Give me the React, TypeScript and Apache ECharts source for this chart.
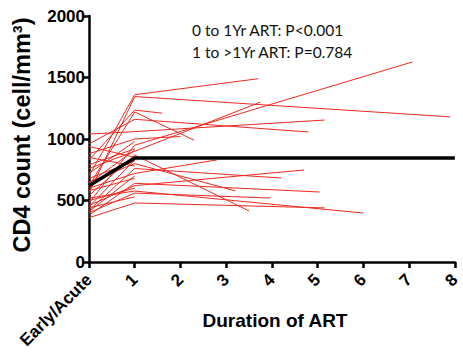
import React, { useEffect, useRef } from "react";
import * as echarts from "echarts";

// CD4 count per subject: Early/Acute (year 0), year 1, and last follow-up
const baselineCD4 = [700, 560, 830, 620, 960, 1040, 480, 760, 880, 540, 650, 420, 600, 380, 460, 520, 400, 360, 940, 790, 680, 580, 500, 440, 720, 850, 410, 450, 640];
const year1CD4 = [1360, 1345, 1235, 1220, 1160, 1060, 950, 900, 1000, 870, 800, 760, 720, 640, 621, 577, 560, 480, 850, 920, 820, 680, 600, 530, 980, 780, 700, 830, 910];
const lastYear = [3.7, 7.9, 1.6, 2.3, 4.8, 5.15, 7.07, 3.75, 2.0, 3.5, 3.2, 4.2, 2.8, 5.04, 4.7, 6.0, 3.97, 5.15, null, null, null, null, null, null, null, null, null, null, null];
const lastCD4 = [1490, 1180, 1210, 990, 1057, 1154, 1626, 1300, 1020, 415, 578, 683, 830, 569, 748, 398, 520, 440, null, null, null, null, null, null, null, null, null, null, null];

const meanYears = [0, 1, 8];
const meanCD4 = [620, 845, 845];

const xTicks = [0, 1, 2, 3, 4, 5, 6, 7, 8];
const xTickLabels = ["Early/Acute", "1", "2", "3", "4", "5", "6", "7", "8"];

const annotations = ["0 to 1Yr ART: P<0.001", "1 to >1Yr ART: P=0.784"];

export default function App() {
  const ref = useRef<HTMLDivElement>(null);
  useEffect(() => {
    if (!ref.current) return;
    const chart = echarts.init(ref.current, null, { renderer: "svg" });
    const subjectSeries = baselineCD4.map((b, i) => {
      const data: number[][] = [
        [0, b],
        [1, year1CD4[i]],
      ];
      if (lastYear[i] != null && lastCD4[i] != null) data.push([lastYear[i] as number, lastCD4[i] as number]);
      return {
        type: "line",
        data,
        showSymbol: false,
        silent: true,
        lineStyle: { color: "#ee2a22", width: 1 },
        z: 2,
      };
    });
    const axisFont = { fontFamily: "Liberation Sans", fontWeight: "bold", color: "#000" };
    chart.setOption({
      animation: false,
      grid: { left: 89, right: 3, top: 16, bottom: 96 },
      xAxis: {
        type: "value",
        min: 0,
        max: 8,
        interval: 1,
        axisLine: { show: true, lineStyle: { color: "#000", width: 2.5 } },
        axisTick: { show: true, length: 6, lineStyle: { color: "#000", width: 2.5 } },
        splitLine: { show: false },
        axisLabel: {
          ...axisFont,
          fontSize: 17,
          rotate: 45,
          margin: 15,
          formatter: (v: number) => xTickLabels[xTicks.indexOf(v)] ?? "",
        },
      },
      yAxis: {
        type: "value",
        min: 0,
        max: 2000,
        interval: 500,
        axisLine: { show: true, lineStyle: { color: "#000", width: 2.5 } },
        axisTick: { show: true, length: 6, lineStyle: { color: "#000", width: 2.5 } },
        splitLine: { show: false },
        axisLabel: { ...axisFont, fontSize: 17, margin: 4, formatter: (v: number) => String(v) },
      },
      graphic: [
        {
          type: "text",
          x: 22,
          y: 135,
          rotation: Math.PI / 2,
          style: {
            text: "CD4 count (cell/mm³)",
            fontFamily: "Liberation Sans",
            fontWeight: "bold",
            fontSize: 23.5,
            fill: "#000",
            align: "center",
            verticalAlign: "middle",
          },
        },
        {
          type: "text",
          x: 275,
          y: 320,
          style: {
            text: "Duration of ART",
            fontFamily: "Liberation Sans",
            fontWeight: "bold",
            fontSize: 19,
            fill: "#000",
            align: "center",
            verticalAlign: "middle",
          },
        },
        ...annotations.map((t, i) => ({
          type: "text",
          x: 192,
          y: 30 + i * 22,
          style: {
            text: t,
            fontFamily: "Lato",
            fontSize: 15.5,
            fill: "#111",
            align: "left",
            verticalAlign: "middle",
          },
        })),
      ],
      series: [
        ...subjectSeries,
        {
          type: "line",
          data: meanYears.map((x, i) => [x, meanCD4[i]]),
          showSymbol: false,
          silent: true,
          lineStyle: { color: "#000", width: 3.5 },
          z: 5,
        },
      ],
    });
    return () => chart.dispose();
  }, []);
  return <div ref={ref} style={{ width: 463, height: 358, position: "absolute", left: 0, top: 0, background: "#fff" }} />;
}
